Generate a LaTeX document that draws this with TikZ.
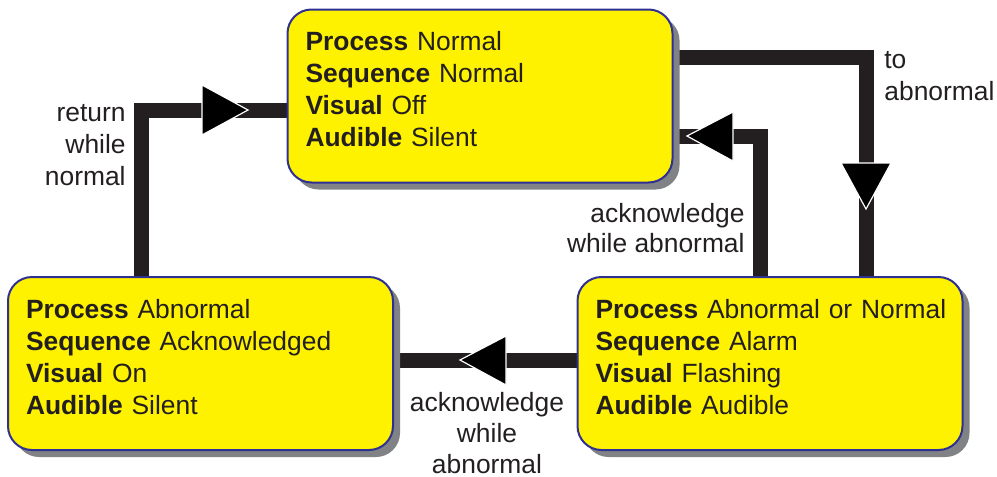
\documentclass[tikz,border=0pt]{standalone}
\usepackage{fontspec}
\setmainfont{Liberation Sans}
\usetikzlibrary{shadows,backgrounds}
\definecolor{boxyellow}{HTML}{FFF200}
\definecolor{boxnavy}{HTML}{2E3192}
\definecolor{wire}{HTML}{231F20}
\definecolor{shade}{HTML}{808285}
\begin{document}
\begin{tikzpicture}[x=0.5pt,y=-0.5pt]
        \tikzstyle{state} = [rectangle, rounded corners=12pt, fill=boxyellow, draw=boxnavy, line width=1pt, text=wire, align=left, text width=174.5pt, inner xsep=9pt, minimum height=86.5pt, font=\fontsize{13.2}{16}\selectfont, drop shadow={shadow xshift=3.5pt, shadow yshift=-3.5pt, fill=shade, opacity=1}]
        \tikzstyle{line} = [draw=wire, line width=7.5pt, line join=miter]
        \tikzstyle{pointer} = [fill=black, draw=white, line width=.6pt, line join=miter]
        \tikzstyle{lbl} = [text=wire, font=\fontsize{13.2}{16}\selectfont, inner sep=0pt]
        \useasboundingbox (0,0) rectangle (997,477);
        % states (an empty last row lifts the text a little)
        \node[state] (normal) at (480,96) {\textbf{Process} Normal\\ \textbf{Sequence} Normal\\ \textbf{Visual} Off\\ \textbf{Audible} Silent\\[-9pt]\mbox{}};
        \node[state] (acked) at (200.5,363.5) {\textbf{Process} Abnormal\\ \textbf{Sequence} Acknowledged\\ \textbf{Visual} On\\ \textbf{Audible} Silent\\[-9pt]\mbox{}};
        \node[state] (alarm) at (770,363.5) {\mbox{\textbf{Process} Abnormal or Normal}\\ \textbf{Sequence} Alarm\\ \textbf{Visual} Flashing\\ \textbf{Audible} Audible\\[-9pt]\mbox{}};
        \coordinate (ret) at (141,110);
        \coordinate (abn) at (866,57);
        \coordinate (ack) at (760,136);
        \coordinate (ackb) at (0,360);
        \begin{scope}[on background layer]
        \draw[line] (acked.north -| ret) |- (normal.west |- ret);
        \draw[line] (normal.east |- abn) -| (alarm.north -| abn);
        \draw[line] (alarm.north -| ack) |- (normal.east |- ack);
        \draw[line] (alarm.west |- ackb) -- (acked.east |- ackb);
        \end{scope}
        \filldraw[pointer] (202,85) -- (248,110) -- (202,135) -- cycle;
        \filldraw[pointer] (841,163) -- (891,163) -- (866,209) -- cycle;
        \filldraw[pointer] (733,112) -- (687,136) -- (733,161) -- cycle;
        \filldraw[pointer] (506,336) -- (460,360) -- (506,385) -- cycle;
        \node[lbl, align=right, anchor=east] (retlbl) at (126,145) {return\\ while\\ normal};
        \node[lbl, align=left, anchor=west] (abnlbl) at (884,76) {to\\ abnormal};
        \node[lbl, align=right, anchor=east, font=\fontsize{13.2}{15}\selectfont] (acklbl) at (745,228) {acknowledge\\ while abnormal};
        \node[lbl, align=center, font=\fontsize{13.2}{15.5}\selectfont] (ackblbl) at (487,433) {acknowledge\\ while\\ abnormal};
    \end{tikzpicture}
\end{document}
